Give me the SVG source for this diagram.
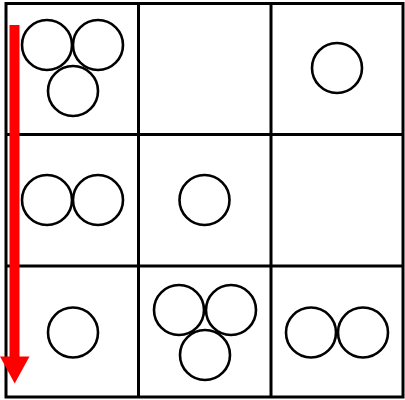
<svg xmlns="http://www.w3.org/2000/svg" width="405" height="400" viewBox="0 0 405 400">
<style>
.g{fill:none;stroke:#000;stroke-width:3}
.c{fill:#fff;stroke:#000;stroke-width:2.6}
</style>
<rect width="405" height="400" fill="#fff"/>
<g id="grid" class="g">
<rect x="6" y="3.5" width="397" height="393.5"/>
<line x1="138.5" y1="3.5" x2="138.5" y2="397"/>
<line x1="271" y1="3.5" x2="271" y2="397"/>
<line x1="6" y1="134.5" x2="403" y2="134.5"/>
<line x1="6" y1="266" x2="403" y2="266"/>
</g>
<g id="cell-1-1">
<circle class="c" cx="47" cy="45" r="25"/>
<circle class="c" cx="98" cy="45" r="25"/>
<circle class="c" cx="73" cy="91" r="25"/>
</g>
<g id="cell-1-3"><circle class="c" cx="337" cy="68" r="25"/></g>
<g id="cell-2-1">
<circle class="c" cx="47" cy="200" r="25"/>
<circle class="c" cx="98" cy="200" r="25"/>
</g>
<g id="cell-2-2"><circle class="c" cx="204.5" cy="200" r="25"/></g>
<g id="cell-3-1"><circle class="c" cx="73" cy="332.5" r="25"/></g>
<g id="cell-3-2">
<circle class="c" cx="179" cy="310" r="25"/>
<circle class="c" cx="231" cy="310" r="25"/>
<circle class="c" cx="205" cy="355" r="25"/>
</g>
<g id="cell-3-3">
<circle class="c" cx="311" cy="332.5" r="25"/>
<circle class="c" cx="363" cy="332.5" r="25"/>
</g>
<g id="connectors">
<rect x="9.5" y="25" width="10" height="333" fill="#f00"/>
<polygon points="0,356.5 29.5,356.5 14.7,383.5" fill="#f00"/>
</g>
</svg>
